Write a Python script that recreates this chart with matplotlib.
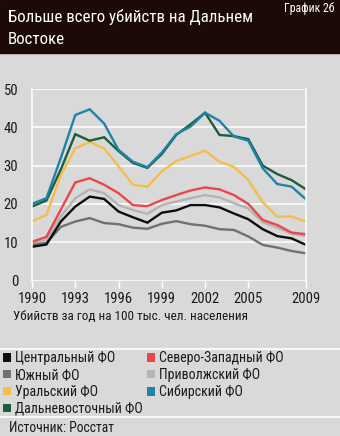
import matplotlib
matplotlib.use("Agg")
import matplotlib.pyplot as plt
from matplotlib.patches import Patch

plt.rcParams['font.family'] = ['Roboto Condensed', 'DejaVu Sans']
plt.rcParams['font.stretch'] = 'condensed'

years = list(range(1990, 2010))

central = [8.8, 9.4, 15.4, 19.3, 21.9, 21.3, 18.0, 16.5, 15.1, 17.7,
           18.3, 19.7, 19.7, 19.1, 17.5, 16.0, 13.4, 11.6, 11.0, 9.3]
northwest = [10.1, 11.4, 18.5, 25.6, 26.7, 25.0, 22.8, 19.7, 19.4, 21.0,
             22.3, 23.5, 24.3, 23.8, 22.3, 20.0, 15.8, 14.5, 12.5, 12.1]
south = [9.3, 9.8, 14.0, 15.4, 16.3, 15.0, 14.7, 13.8, 13.5, 14.8,
         15.5, 14.7, 14.3, 13.4, 13.2, 11.5, 9.3, 8.6, 7.7, 7.1]
volga = [9.7, 10.6, 16.7, 21.5, 23.8, 22.8, 19.7, 18.4, 17.4, 19.7,
         20.6, 21.5, 22.3, 21.7, 20.2, 18.8, 15.2, 13.8, 12.2, 11.6]
ural = [15.5, 17.1, 27.5, 34.5, 36.2, 34.5, 29.8, 25.0, 24.5, 28.5,
        31.2, 32.5, 33.9, 31.0, 29.7, 26.2, 20.4, 16.7, 16.7, 15.4]
siberia = [20.0, 21.5, 32.0, 43.2, 44.7, 41.0, 34.1, 31.0, 29.6, 33.4,
           38.2, 40.2, 43.8, 41.7, 37.6, 36.5, 29.3, 25.2, 24.5, 21.2]
fareast = [19.3, 20.9, 29.0, 38.2, 36.5, 37.4, 33.8, 30.7, 29.4, 33.0,
           38.0, 40.8, 43.8, 38.0, 37.7, 36.9, 30.0, 27.8, 26.2, 23.8]

names = ['Центральный ФО', 'Северо-Западный ФО', 'Южный ФО', 'Приволжский ФО',
         'Уральский ФО', 'Сибирский ФО', 'Дальневосточный ФО']
colors = ['#0d0d0d', '#e9474c', '#707070', '#b4b4b4',
          '#f5bd4c', '#1f82a8', '#1a5e3c']
series = [central, northwest, south, volga, ural, siberia, fareast]

xticks = [1990, 1993, 1996, 1999, 2002, 2005, 2009]
yticks = [0, 10, 20, 30, 40, 50]

bg = '#d9d9d9'
ink = '#1a1a1a'
fig = plt.figure(figsize=(3.4, 4.36), dpi=100, facecolor=bg)

# dark header band
fig.patches.append(plt.Rectangle((0, 1 - 53 / 436), 1, 53 / 436,
                                 transform=fig.transFigure, color='#1c0a06', zorder=0))
fig.text(8 / 340, 1 - 22 / 436, 'Больше всего убийств на Дальнем', color='white',
         fontsize=12.2, va='baseline', ha='left')
fig.text(8 / 340, 1 - 44 / 436, 'Востоке', color='white',
         fontsize=12.2, va='baseline', ha='left')
fig.text(335 / 340, 1 - 12 / 436, 'График 2б', color='white',
         fontsize=8.5, va='baseline', ha='right')

ax = fig.add_axes([32 / 340, 1 - 280.5 / 436, 274 / 340, 191.5 / 436])
ax.set_facecolor(bg)

# draw order so that red sits over light gray and blue/green on top
order = [3, 2, 0, 1, 4, 6, 5]
for i in order:
    ax.plot(years, series[i], color=colors[i], lw=1.7, solid_joinstyle='miter')

ax.set_xlim(1990, 2009)
ax.set_ylim(0, 50)
ax.set_xticks(xticks)
ax.set_yticks(yticks)
ax.tick_params(axis='x', colors='white', length=5, width=1, pad=3, labelcolor=ink,
               labelsize=10.5)
ax.tick_params(axis='y', length=0, pad=10, labelcolor=ink, labelsize=10.5)
ax.yaxis.grid(True, color='white', lw=1.1)
ax.set_axisbelow(True)
for s in ['top', 'bottom']:
    ax.spines[s].set_visible(False)
for s in ['left', 'right']:
    ax.spines[s].set_color('white')
    ax.spines[s].set_linewidth(1.1)

fig.text(13 / 340, 1 - 316 / 436, 'Убийств за год на 100 тыс. чел. населения',
         fontsize=9.5, va='center', ha='left', color=ink)

# separators
fig.add_artist(plt.Line2D([0, 1], [1 - 349 / 436] * 2, color='white', lw=1.2))
fig.add_artist(plt.Line2D([0, 1], [1 - 417 / 436] * 2, color='white', lw=1.2))

legend_order = [0, 2, 4, 6, 1, 3, 5]
handles = [Patch(facecolor=colors[i], edgecolor='none', label=names[i]) for i in legend_order]
fig.legend(handles=handles, ncol=2, loc='upper left', bbox_to_anchor=(2 / 340, 1 - 350 / 436),
           frameon=False, fontsize=10, handlelength=0.55, handleheight=0.55,
           handletextpad=0.3, columnspacing=0.3, labelspacing=0.2, borderaxespad=0.1,
           borderpad=0, labelcolor=ink)

fig.text(9 / 340, 1 - 428 / 436, 'Источник: Росстат', fontsize=9.8, va='center',
         ha='left', color=ink)

fig.savefig('out.png', dpi=100, facecolor=bg)
